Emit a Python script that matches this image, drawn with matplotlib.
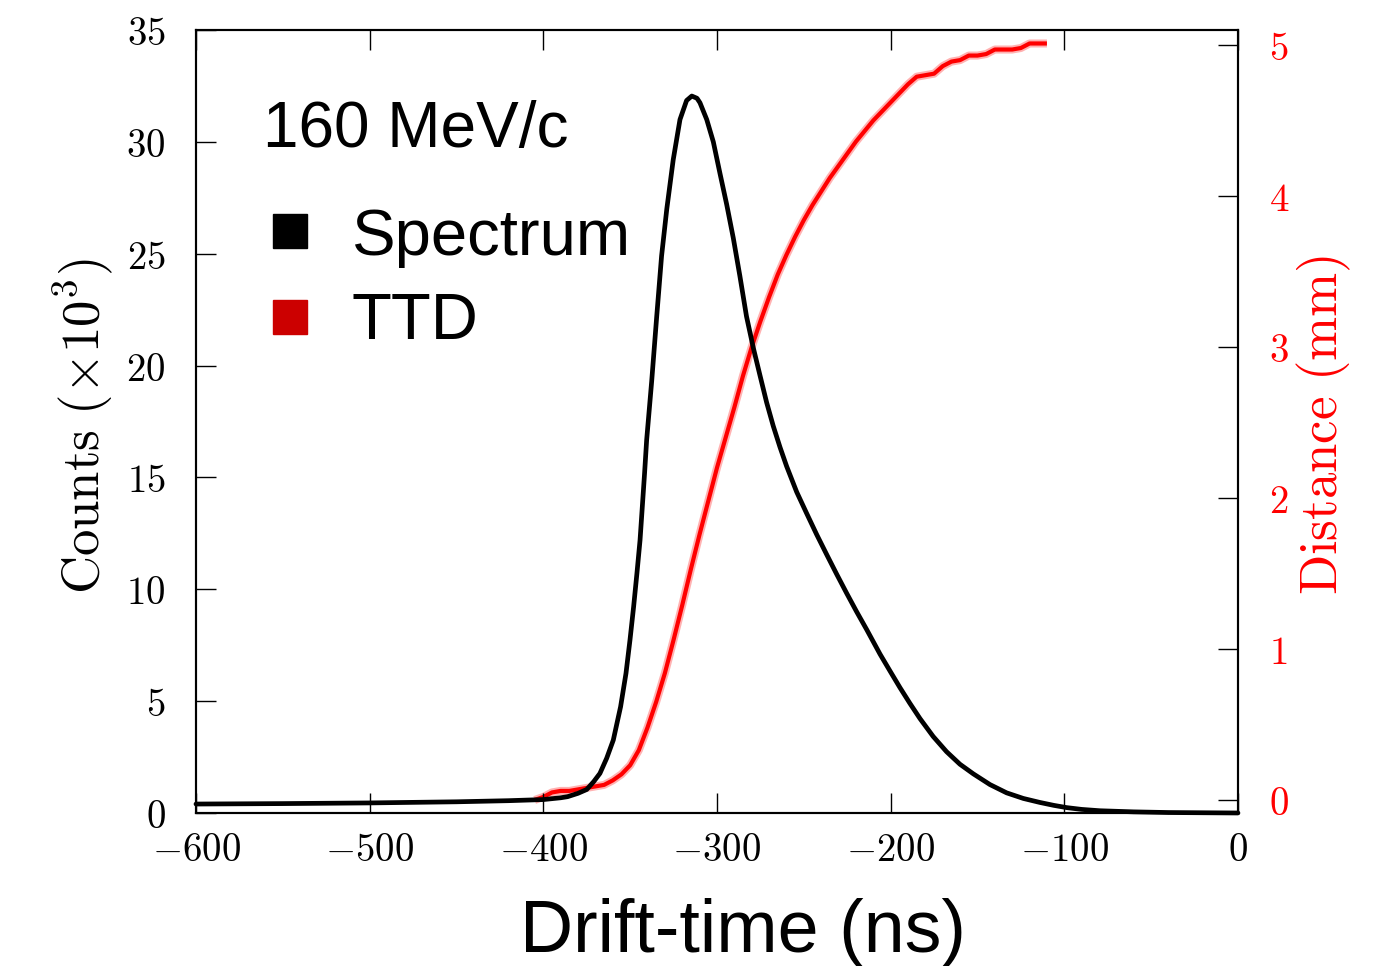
import matplotlib
matplotlib.use("Agg")
import matplotlib.pyplot as plt

plt.rcParams['mathtext.fontset'] = 'cm'

# ---------------- data ----------------
spec_t = [-600, -550, -500, -450, -420, -400, -390, -386, -380, -375, -371, -367.4,
          -363.5, -359.7, -355.5, -352.4, -350.1, -348.0, -346.1, -344.3, -343.0,
          -341.7, -340.5, -337.6, -334.7, -331.9, -328.9, -325.2, -321.3, -317.5,
          -314.5, -311.5, -309.8, -305.9, -302.1, -298.3, -294.4, -290.6, -286.8,
          -283.0, -279.1, -275.2, -271.4, -267.6, -263.7, -259.9, -254.1, -248.4,
          -242.6, -236.8, -231.1, -225.3, -219.6, -213.8, -206.1, -200.0, -194.6,
          -188.9, -183.1, -175.5, -167.8, -160.1, -152.4, -142.8, -133.2, -123.6,
          -114.0, -106.0, -98.6, -90.0, -79.5, -60, -40, -20, 0]
spec_counts = [0.40, 0.42, 0.45, 0.50, 0.55, 0.60, 0.68, 0.73, 0.88, 1.05, 1.40, 1.77,
               2.45, 3.26, 4.75, 6.24, 7.73, 9.22, 10.71, 12.20, 13.69,
               15.18, 16.67, 19.3, 22.2, 24.9, 27.0, 29.2, 31.0, 31.85,
               32.05, 31.95, 31.75, 31.0, 30.0, 28.6, 27.2, 25.7, 24.0,
               22.2, 20.8, 19.55, 18.35, 17.3, 16.35, 15.5, 14.35, 13.4,
               12.45, 11.55, 10.68, 9.82, 9.0, 8.2, 7.1, 6.3, 5.6,
               4.9, 4.22, 3.42, 2.74, 2.18, 1.75, 1.27, 0.90, 0.65,
               0.47, 0.34, 0.24, 0.16, 0.10, 0.05, 0.02, 0.01, 0.0]

ttd_t = [-405, -400, -395, -390, -385, -380, -375, -370, -365, -360, -355, -350, -345,
         -340, -335, -330, -325, -320, -315, -310, -305, -300, -295, -290, -285, -280,
         -275, -270, -265, -260, -255, -250, -245, -240, -235, -230, -225, -220, -215,
         -210, -205, -200, -195, -190, -185, -180, -175, -170, -165, -160, -155, -150,
         -145, -140, -135, -130, -125, -120, -115, -110]
ttd_dist = [0.00, 0.02, 0.05, 0.06, 0.06, 0.07, 0.08, 0.09, 0.10, 0.13, 0.17, 0.23, 0.33,
            0.48, 0.65, 0.84, 1.06, 1.29, 1.53, 1.76, 1.98, 2.20, 2.40, 2.60, 2.81, 3.00,
            3.17, 3.33, 3.48, 3.61, 3.73, 3.84, 3.94, 4.03, 4.12, 4.20, 4.28, 4.36, 4.43,
            4.50, 4.56, 4.62, 4.68, 4.74, 4.79, 4.80, 4.81, 4.86, 4.89, 4.90, 4.93, 4.93,
            4.94, 4.97, 4.97, 4.97, 4.98, 5.01, 5.01, 5.01]

x_ticks = [-600, -500, -400, -300, -200, -100, 0]
left_ticks = [0, 5, 10, 15, 20, 25, 30, 35]
right_ticks = [0, 1, 2, 3, 4, 5]

# ---------------- figure ----------------
fig = plt.figure(figsize=(13.93, 9.66), dpi=100)
ax = fig.add_axes([0.1407, 0.1584, 0.748, 0.8105])
ax2 = ax.twinx()
ax.set_zorder(ax2.get_zorder() + 1)
ax.patch.set_visible(False)

# TTD (red, slightly blurred)
ax2.plot(ttd_t, ttd_dist, color='#ff0000', lw=5.8, alpha=0.3, solid_capstyle='butt')
ax2.plot(ttd_t, ttd_dist, color='#ff0000', lw=3.0, solid_capstyle='butt')

# Spectrum
ax.plot(spec_t, spec_counts, color='black', lw=3.4, solid_joinstyle='round',
        solid_capstyle='round', clip_on=False)

ax.set_xlim(-600, 0)
ax.set_ylim(0, 35)
ax2.set_ylim(-0.0861, 5.099)

ax.set_xticks(x_ticks)
ax.set_xticklabels([f'${v}$' for v in x_ticks])
ax.set_yticks(left_ticks)
ax.set_yticklabels([f'${v}$' for v in left_ticks])
ax2.set_yticks(right_ticks)
ax2.set_yticklabels([f'${v}$' for v in right_ticks])

ax.tick_params(axis='x', direction='in', top=True, bottom=True, length=14.4, width=1.0,
               labelsize=28, pad=13, colors='black')
ax.tick_params(axis='y', direction='in', left=True, right=False, length=14.4, width=1.0,
               labelsize=28, pad=22)
ax2.tick_params(axis='y', direction='in', right=True, length=14.4, width=1.0,
                labelsize=28, pad=22, labelcolor='#ff0000', color='black')

for a in (ax, ax2):
    for s in a.spines.values():
        s.set_linewidth(1.5)

ax.set_ylabel(r'$\mathrm{Counts}\ (\times 10^3)$', fontsize=38)
ax.yaxis.set_label_coords(-0.078, 0.494)
ax2.set_ylabel(r'$\mathrm{Distance}\ (\mathrm{mm})$', fontsize=38, color='#ff0000',
               rotation=90)
ax2.yaxis.set_label_coords(1.055, 0.495)

ax.set_xlabel('Drift-time (ns)', fontsize=53, family='Liberation Sans')
ax.xaxis.set_label_coords(0.525, -0.108)

# annotation + legend
ax.text(0.0643, 0.8506, '160 MeV/c', transform=ax.transAxes, fontsize=46,
        family='Liberation Sans', va='baseline', ha='left')
leg_labels = ['Spectrum', 'TTD']
leg_colors = ['black', '#cc0000']
leg_marker_y = [0.7433, 0.6335]
leg_text_y = [0.7126, 0.6054]
for lab, col, my, ty in zip(leg_labels, leg_colors, leg_marker_y, leg_text_y):
    ax.plot([0.0902], [my], marker='s', ms=25, color=col, transform=ax.transAxes,
            linestyle='none', clip_on=False)
    ax.text(0.1497, ty, lab, transform=ax.transAxes, fontsize=47,
            family='Liberation Sans', va='baseline', ha='left')

fig.savefig('out.png', dpi=100)
